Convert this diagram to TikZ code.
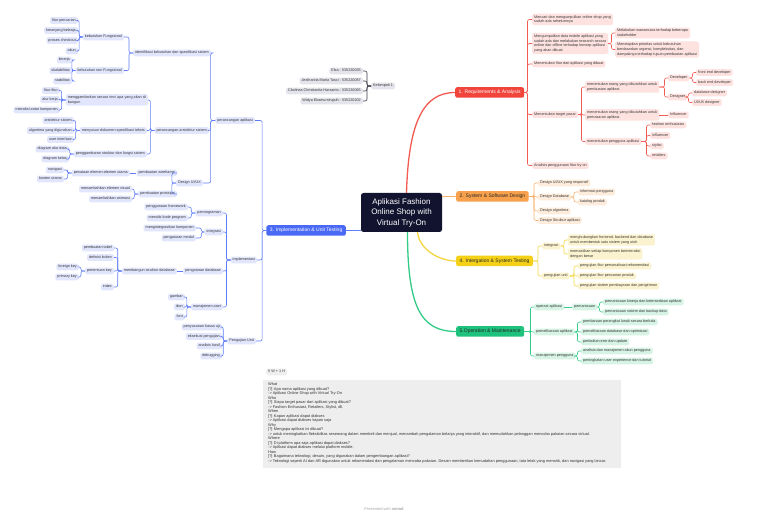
\documentclass[tikz,border=0pt]{standalone}
\usepackage{fontspec}
\setmainfont{Liberation Sans}
\usepackage{tikz}
\definecolor{navy}{HTML}{12132F}
\definecolor{rcol}{HTML}{F1443B}\definecolor{rlt}{HTML}{FDE2E0}\definecolor{rln}{HTML}{F25B52}
\definecolor{ocol}{HTML}{F7A14C}\definecolor{olt}{HTML}{FDEBDB}\definecolor{oln}{HTML}{F7B06B}
\definecolor{ycol}{HTML}{F4D118}\definecolor{ylt}{HTML}{FBF3CF}\definecolor{yln}{HTML}{F3D641}
\definecolor{gcol}{HTML}{1EC27C}\definecolor{glt}{HTML}{D6F3E5}\definecolor{gln}{HTML}{33CB88}
\definecolor{bcol}{HTML}{4A6AF6}\definecolor{blt}{HTML}{E1E6FD}\definecolor{bln}{HTML}{5F7DF8}
\definecolor{klt}{HTML}{E4E4EC}\definecolor{kln}{HTML}{3A3A48}
\definecolor{notebg}{HTML}{EEEEEE}
\tikzset{topic/.style={rounded corners=2pt, inner xsep=3.5pt, inner ysep=2.9pt, text height=3.6pt, text depth=1.1pt, font=\fontsize{5}{6}\selectfont},
  leafbase/.style={rounded corners=1.5pt, inner xsep=2pt, inner ysep=1.6pt, font=\fontsize{3.75}{4.8}\selectfont, text=black!78},
  leaf/.style={leafbase, text height=2.7pt, text depth=0.9pt},
  mleaf/.style={leafbase, align=left},
  rl/.style={leaf, fill=rlt, anchor=west}, rm/.style={mleaf, fill=rlt, anchor=west},
  ol/.style={leaf, fill=olt, anchor=west},
  yl/.style={leaf, fill=ylt, anchor=west}, ym/.style={mleaf, fill=ylt, anchor=west},
  gl/.style={leaf, fill=glt, anchor=west},
  bl/.style={leaf, fill=blt, anchor=east}, bm/.style={mleaf, fill=blt, anchor=east},
  kl/.style={leaf, fill=klt},
  link/.style={line width=0.6pt, rounded corners=2pt},
  rlink/.style={link, draw=rln}, olink/.style={link, draw=oln}, ylink/.style={link, draw=yln},
  glink/.style={link, draw=gln}, blink/.style={link, draw=bln}, klink/.style={link, draw=kln},
  branch/.style={line width=1.3pt}}
\begin{document}
\begin{tikzpicture}[x=1pt, y=-1pt]
  \useasboundingbox (0,0) rectangle (768,518);
  \node[fill=navy, rounded corners=2.5pt, minimum width=81pt, minimum height=39pt, align=center, text=white, font=\fontsize{8}{10.5}\selectfont] (ctr) at (401.5,212.5) {Aplikasi Fashion\\Online Shop with\\Virtual Try-On};

  \node[kl, anchor=west] (grp) at (371,86) {Kelompok 1};
  \foreach \txt/\y [count=\i] in {Elsa - 535220035/71, Jesthantia Maria Tasci - 535220087/81, Clodinas Christianita Harsanto - 535220065/91, Widya Ekamurningsih - 535220202/101} {
    \node[kl, anchor=east] (m\i) at (363,\y) {\txt};
    \draw[klink] (grp.west) -- ++(-4,0) |- (m\i.east);
  }

  \node[topic, fill=rcol, text=white, anchor=west] (req) at (455,92.5) {1. Requirements \& Analysis};
  \node[topic, fill=ocol, text=black!85, anchor=west] (des) at (456,196.5) {2. System \& Software Design};
  \node[topic, fill=ycol, text=black!85, anchor=west] (its) at (456,261) {4. Intergation \& System Testing};
  \node[topic, fill=gcol, text=black!85, anchor=west] (opm) at (456,331.5) {5.Operation \& Maintenance};
  \node[topic, fill=bcol, text=white, anchor=east] (imp) at (346,230.5) {3. Implementation \& Unit Testing};
  \draw[branch, draw=rln] ([xshift=5pt]ctr.north) .. controls +(2,-70) and +(-32,0) .. (req.west);
  \draw[branch, draw=oln] (ctr.east |- des.west) -- (des.west);
  \draw[branch, draw=yln] ([xshift=16pt]ctr.south) .. controls +(2,18) and +(-16,0) .. (its.west);
  \draw[branch, draw=gln] ([xshift=6pt]ctr.south) .. controls +(0,75) and +(-35,0) .. (opm.west);
  \draw[branch, draw=bln] (ctr.west |- imp.east) -- (imp.east);

  \node[rm] (r1) at (532,19.5) {Mencari dan mengumpulkan online shop yang\\sudah ada sebelumnya};
  \node[rm] (r2) at (532,43.5) {Mengumpulkan data mobile aplikasi yang\\sudah ada dan melakukan research secara\\online dan offline terhadap konsep aplikasi\\yang akan dibuat};
  \node[rl] (r3) at (532,64) {Menentukan fitur dari aplikasi yang dibuat};
  \node[rl] (r4) at (532,114.5) {Menentukan target pasar};
  \node[rl] (r5) at (532,165.5) {Analisis penggunaan fitur try on};
  \foreach \i in {1,...,5} \draw[rlink] (req.east) -| ([xshift=-4.5pt]r\i.west) -- (r\i.west);
  \node[rm] (r21) at (615,33) {Melakukan wawancara terhadap beberapa\\stakeholder};
  \node[rm] (r22) at (615,49.5) {Menetapkan prioritas untuk kebutuhan\\berdasarkan urgensi, kompleksitas, dan\\dampaknya terhadap tujuan pembuatan aplikasi};
  \foreach \i in {1,2} \draw[rlink] (r2.east) -| ([xshift=-3.5pt]r2\i.west) -- (r2\i.west);
  \node[rm] (r41) at (585,87) {menentukan orang yang dibutuhkan untuk\\pembuatan aplikasi};
  \node[rm] (r42) at (585,115) {menentukan orang yang dibutuhkan untuk\\pemasaran aplikasi};
  \node[rl] (r43) at (585,141.5) {menentukan pengguna aplikasi};
  \foreach \i in {1,2,3} \draw[rlink] (r4.east) -| ([xshift=-3.5pt]r4\i.west) -- (r4\i.west);
  \node[rl] (r411) at (668,78) {Developer};
  \node[rl] (r412) at (668,97) {Designer};
  \foreach \i in {1,2} \draw[rlink] (r41.east) -| ([xshift=-3.5pt]r41\i.west) -- (r41\i.west);
  \node[rl] (dv1) at (696,72.5) {front end developer};
  \node[rl] (dv2) at (696,82.5) {back end developer};
  \node[rl] (dz1) at (692,93) {database designer};
  \node[rl] (dz2) at (692,102.5) {UI/UX designer};
  \foreach \i in {1,2} {
    \draw[rlink] (r411.east) -| ([xshift=-3.5pt]dv\i.west) -- (dv\i.west);
    \draw[rlink] (r412.east) -| ([xshift=-3.5pt]dz\i.west) -- (dz\i.west);
  }
  \node[rl] (r421) at (668,115) {Influencer};
  \draw[rlink] (r42.east) -- (r421.west);
  \foreach \txt/\y [count=\i] in {fashion enthusiasts/125, influencer/135.5, stylist/146, retailers/156} {
    \node[rl] (us\i) at (650,\y) {\txt};
    \draw[rlink] (r43.east) -| ([xshift=-3.5pt]us\i.west) -- (us\i.west);
  }

  \node[ol] (o1) at (538,183) {Design UI/UX yang responsif};
  \node[ol] (o2) at (538,197) {Design Database};
  \node[ol] (o3) at (538,211) {Design algoritma};
  \node[ol] (o4) at (538,220.5) {Design Struktur aplikasi};
  \foreach \i in {1,...,4} \draw[olink] (des.east) -| ([xshift=-4pt]o\i.west) -- (o\i.west);
  \node[ol] (ob1) at (578,192) {informasi pengguna};
  \node[ol] (ob2) at (578,202) {katalog produk};
  \foreach \i in {1,2} \draw[olink] (o2.east) -| ([xshift=-4pt]ob\i.west) -- (ob\i.west);

  \node[yl] (y1) at (542,246) {integrasi};
  \node[yl] (y2) at (542,276) {pengujian unit};
  \foreach \i in {1,2} \draw[ylink] (its.east) -| ([xshift=-4pt]y\i.west) -- (y\i.west);
  \node[ym] (y11) at (568,240) {menghubungkan frontend, backend dan database\\untuk membentuk satu sistem yang utuh};
  \node[ym] (y12) at (568,254) {memastikan setiap komponen berinteraksi\\dengan benar};
  \foreach \i in {1,2} \draw[ylink] (y1.east) -| ([xshift=-4pt]y1\i.west) -- (y1\i.west);
  \foreach \txt/\y [count=\i] in {pengujian fitur personalisasi rekomendasi/266, pengujian fitur pencarian produk/276, pengujian sistem pembayaran dan pengiriman/286} {
    \node[yl] (yp\i) at (578,\y) {\txt};
    \draw[ylink] (y2.east) -| ([xshift=-4pt]yp\i.west) -- (yp\i.west);
  }

  \node[gl] (g1) at (534,307) {operasi aplikasi};
  \node[gl] (g2) at (534,332) {pemeliharaan aplikasi};
  \node[gl] (g3) at (534,356) {manajemen pengguna};
  \foreach \i in {1,2,3} \draw[glink] (opm.east) -| ([xshift=-3.5pt]g\i.west) -- (g\i.west);
  \node[gl] (g11) at (572,307) {pemantauan};
  \draw[glink] (g1.east) -- (g11.west);
  \node[gl] (gm1) at (603,302) {pemantauan kinerja dan ketersediaan aplikasi};
  \node[gl] (gm2) at (603,312) {pemantauan sistem dan backup data};
  \foreach \i in {1,2} \draw[glink] (g11.east) -| ([xshift=-3.5pt]gm\i.west) -- (gm\i.west);
  \foreach \txt/\y [count=\i] in {pembaruan perangkat lunak secara berkala/322, pemeliharaan database dan optimisasi/332, perbaikan eror dan update/342} {
    \node[gl] (gp\i) at (581,\y) {\txt};
    \draw[glink] (g2.east) -| ([xshift=-3.5pt]gp\i.west) -- (gp\i.west);
  }
  \foreach \txt/\y [count=\i] in {analisis dan manajemen akun pengguna/351, peningkatan user experience dan tutorial/361} {
    \node[gl] (gu\i) at (581,\y) {\txt};
    \draw[glink] (g3.east) -| ([xshift=-3.5pt]gu\i.west) -- (gu\i.west);
  }

  \node[bl] (b1) at (255,120.5) {perancangan aplikasi};
  \node[bl] (b2) at (257,260) {implementasi};
  \node[bl] (b3) at (256,341) {Pengujian Unit};
  \foreach \i in {1,2,3} \draw[blink] (imp.west) -- ++(-4,0) |- (b\i.east);
  \node[bl] (b11) at (211,53) {identifikasi kebutuhan dan spesifikasi sistem};
  \node[bl] (b12) at (209,130.5) {perancangan arsitektur sistem};
  \node[bl] (b13) at (203,183) {Design UI/UX};
  \foreach \i in {1,2,3} \draw[blink] (b1.west) -- ++(-4.5,0) |- (b1\i.east);
  \node[bl] (b111) at (124,37) {kebutuhan Fungsional};
  \node[bl] (b112) at (124,70.5) {kebutuhan non Fungsional};
  \foreach \i in {1,2} \draw[blink] (b11.west) -- ++(-4,0) |- (b11\i.east);
  \foreach \txt/\y [count=\i] in {fitur pencarian/20.5, keranjang belanja/30.5, proses checkout/40.5, akun/51} {
    \node[bl] (kf\i) at (78,\y) {\txt};
    \draw[blink] (b111.west) -- ++(-3.5,0) |- (kf\i.east);
  }
  \foreach \txt/\y [count=\i] in {kinerja/60, skalabilitas/70.5, stabilitas/81} {
    \node[bl] (kn\i) at (72,\y) {\txt};
    \draw[blink] (b112.west) -- ++(-3.5,0) |- (kn\i.east);
  }
  \node[bm] (b121) at (148,100) {menggambarkan secara rinci apa yang akan di\\bangun};
  \node[bl] (b122) at (147,130.5) {menyusun dokumen spesifikasi teknis};
  \node[bl] (b123) at (147,154) {penggambaran struktur dan fungsi sistem};
  \foreach \i in {1,2,3} \draw[blink] (b12.west) -- ++(-4,0) |- (b12\i.east);
  \foreach \txt/\y [count=\i] in {fitur-fitur/90.5, alur kerja/99.5, interaksi antar komponen/110} {
    \node[bl] (mg\i) at (60,\y) {\txt};
    \draw[blink] (b121.west) -- ++(-4,0) |- (mg\i.east);
  }
  \foreach \txt/\y [count=\i] in {arsitektur sistem/120.5, algoritma yang digunakan/130.5, user interface/139.5} {
    \node[bl] (sd\i) at (74,\y) {\txt};
    \draw[blink] (b122.west) -- ++(-4,0) |- (sd\i.east);
  }
  \foreach \txt/\y [count=\i] in {diagram alur data/149, diagram kelas/159} {
    \node[bl] (sf\i) at (69,\y) {\txt};
    \draw[blink] (b123.west) -- ++(-4,0) |- (sf\i.east);
  }
  \node[bl] (b131) at (177,173) {pembuatan wireframe};
  \node[bl] (b132) at (177,194) {pembuatan prototipe};
  \foreach \i in {1,2} \draw[blink] (b13.west) -- ++(-4,0) |- (b13\i.east);
  \node[bl] (b1311) at (130,173) {penataan elemen-elemen utama};
  \draw[blink] (b131.west) -- (b1311.east);
  \foreach \txt/\y [count=\i] in {navigasi/170, konten utama/179} {
    \node[bl] (nv\i) at (64,\y) {\txt};
    \draw[blink] (b1311.west) -- ++(-4,0) |- (nv\i.east);
  }
  \foreach \txt/\y [count=\i] in {menambahkan elemen visual/189, menambahkan animasi/199} {
    \node[bl] (pt\i) at (132,\y) {\txt};
    \draw[blink] (b132.west) -- ++(-4,0) |- (pt\i.east);
  }

  \node[bl] (b21) at (223,213) {pemrograman};
  \node[bl] (b22) at (223,232) {integrasi};
  \node[bl] (b23) at (223,271) {pengaturan database};
  \node[bl] (b24) at (223,307) {manajemen aset};
  \foreach \i in {1,...,4} \draw[blink] (b2.west) -- ++(-4,0) |- (b2\i.east);
  \foreach \txt/\y [count=\i] in {penggunaan framework/207, menulis kode program/218} {
    \node[bl] (pg\i) at (188,\y) {\txt};
    \draw[blink] (b21.west) -- ++(-4,0) |- (pg\i.east);
  }
  \foreach \txt/\y [count=\i] in {mengintegrasikan komponen/228, pengaturan modul/238} {
    \node[bl] (ig\i) at (196,\y) {\txt};
    \draw[blink] (b22.west) -- ++(-3,0) |- (ig\i.east);
  }
  \node[bl] (b231) at (177,271) {membangun struktur database};
  \draw[blink] (b23.west) -- (b231.east);
  \foreach \txt/\y [count=\i] in {pembuatan tabel/248, definisi kolom/257.5, penentuan key/271, index/287} {
    \node[bl] (db\i) at (114,\y) {\txt};
    \draw[blink] (b231.west) -- ++(-4,0) |- (db\i.east);
  }
  \foreach \txt/\y [count=\i] in {foreign key/267, primary key/277} {
    \node[bl] (fk\i) at (79,\y) {\txt};
    \draw[blink] (db3.west) -- ++(-4,0) |- (fk\i.east);
  }
  \foreach \txt/\y [count=\i] in {gambar/297, ikon/307, font/317} {
    \node[bl] (as\i) at (185,\y) {\txt};
    \draw[blink] (b24.west) -- ++(-4,0) |- (as\i.east);
  }
  \foreach \txt/\y [count=\i] in {penyusunan kasus uji/327, eksekusi pengujian/336.5, analisis hasil/346, debugging/356} {
    \node[bl] (uj\i) at (222,\y) {\txt};
    \draw[blink] (b3.west) -- ++(-4,0) |- (uj\i.east);
  }

  \node[kl, fill=notebg, anchor=west] (tag) at (266,372) {5 W + 1 H};
  \node[fill=notebg, minimum width=358pt, minimum height=88pt, anchor=north west, inner sep=0pt] (notebox) at (263,380) {};
  \node[anchor=north west, align=left, inner sep=0pt, font=\fontsize{3.9}{4.5}\selectfont, text=black!80] (note) at ([shift={(5pt,-2.5pt)}]notebox.north west) {What\\
    {[?]} Apa nama aplikasi yang dibuat?\\
    -> Aplikasi Online Shop with Virtual Try-On\\
    Who\\
    {[?]} Siapa target pasar dari aplikasi yang dibuat?\\
    -> Fashion Enthusiast, Retailers, Stylist, dll.\\
    When\\
    {[?]} Kapan aplikasi dapat diakses\\
    -> Aplikasi dapat diakses kapan saja\\
    Why\\
    {[?]} Mengapa aplikasi ini dibuat?\\
    -> untuk meningkatkan fleksibilitas seseorang dalam membeli dan menjual, menambah pengalaman belanja yang interaktif, dan memudahkan pelanggan mencoba pakaian secara virtual.\\
    Where\\
    {[?]} Di platform apa saja aplikasi dapat diakses?\\
    -> Aplikasi dapat diakses melalui platform mobile.\\
    How\\
    {[?]} Bagaimana teknologi, desain, yang digunakan dalam pengembangan aplikasi?\\
    -> Teknologi seperti AI dan AR digunakan untuk rekomendasi dan pengalaman mencoba pakaian. Desain memberikan kemudahan penggunaan, tata letak yang menarik, dan navigasi yang lancar.};
  \node[text=black!35, font=\fontsize{4}{5}\selectfont] (credit) at (384,509) {Presented with \textbf{xmind}};
\end{tikzpicture}
\end{document}
